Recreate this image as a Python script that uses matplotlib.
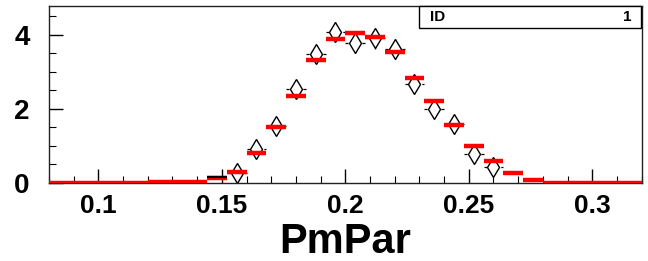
import numpy as np
import matplotlib.pyplot as plt
from matplotlib.ticker import MultipleLocator

plt.rcParams['font.family'] = ['Liberation Sans', 'DejaVu Sans']

# histogram: 30 bins from 0.08 to 0.32
edges = np.linspace(0.08, 0.32, 31)
mc = [0, 0, 0, 0, 0, 0.015, 0.015, 0.04, 0.13, 0.31,
      0.80, 1.52, 2.36, 3.31, 3.90, 4.06, 3.94, 3.55, 2.84, 2.21,
      1.56, 1.00, 0.59, 0.28, 0.08, 0, 0, 0, 0, 0]

# data points (bin centres, values, errors)
data_x = [0.156, 0.164, 0.172, 0.180, 0.188, 0.196, 0.204, 0.212,
          0.220, 0.228, 0.236, 0.244, 0.252, 0.260]
data_y = [0.27, 0.91, 1.54, 2.53, 3.49, 4.08, 3.79, 3.91,
          3.61, 2.67, 2.01, 1.59, 0.77, 0.44]
data_err = [0.17, 0.2, 0.22, 0.24, 0.25, 0.27, 0.27, 0.28,
            0.27, 0.25, 0.22, 0.21, 0.18, 0.16]
low_x = [0.148]
low_y = [0.15]

fig = plt.figure(figsize=(6.48, 2.61), dpi=100)
ax = fig.add_axes([0.0756, 0.2989, 0.9145, 0.678])

ax.hlines(mc, edges[:-1], edges[1:], color='red', lw=3.2, zorder=3)

half = 0.004
ax.hlines(data_y, np.array(data_x) - half, np.array(data_x) + half,
          color='black', lw=0.9, linestyles=(0, (2.5, 2)), zorder=2)
ax.hlines(low_y, np.array(low_x) - half, np.array(low_x) + half,
          color='black', lw=1.6, zorder=4)
ax.errorbar(data_x, data_y, yerr=data_err, fmt='none', ecolor='black',
            elinewidth=0.9, zorder=2)
ax.plot(data_x, data_y, linestyle='none', marker='d', markersize=10,
        markerfacecolor='white', markeredgecolor='black', mew=1.0, zorder=2.5)

ax.set_xlim(0.08, 0.32)
ax.set_ylim(0, 4.78)
ax.xaxis.set_minor_locator(MultipleLocator(0.01))
ax.yaxis.set_major_locator(MultipleLocator(2))
ax.yaxis.set_minor_locator(MultipleLocator(0.5))
ax.set_xticks([0.1, 0.15, 0.2, 0.25, 0.3])
ax.set_xticklabels(['0.1', '0.15', '0.2', '0.25', '0.3'])
ax.tick_params(which='both', direction='in', top=False, right=False)
ax.tick_params(which='major', length=10, width=1)
ax.tick_params(which='minor', length=5, width=0.8)
ax.tick_params(axis='x', labelsize=19, pad=8)
ax.tick_params(axis='y', labelsize=20, pad=14)
for lab in ax.get_xticklabels() + ax.get_yticklabels():
    lab.set_fontweight('bold')
for s in ax.spines.values():
    s.set_linewidth(1.0)
    s.set_color('#222222')

ax.set_xlabel('PmPar', fontsize=30, fontweight='bold', labelpad=3)

# stats box
fig.patches.append(plt.Rectangle((419 / 648, 1 - 28 / 261), 222 / 648, 22 / 261,
                                 transform=fig.transFigure, fill=True,
                                 facecolor='white', edgecolor='black', lw=1.0,
                                 zorder=5))
fig.text(430 / 648, 1 - 17 / 261, 'ID', fontsize=11, fontweight='bold',
         va='center', ha='left', zorder=6)
fig.text(632 / 648, 1 - 17 / 261, '1', fontsize=11, fontweight='bold',
         va='center', ha='right', zorder=6)

fig.savefig('out.png', dpi=100)
